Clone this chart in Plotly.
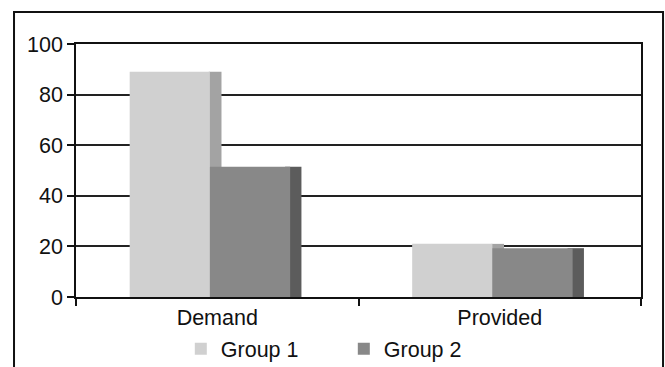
import plotly.graph_objects as go

categories = ["Demand", "Provided"]
group1 = [89, 21]
group2 = [51.5, 19.3]
series_names = ["Group 1", "Group 2"]

FONT = "Liberation Sans, Arial, sans-serif"
C1, C1S = "#d0d0d0", "#a3a3a3"
C2, C2S = "#888888", "#5c5c5c"

fig = go.Figure()
# side faces drawn first (3D depth strips)
fig.add_trace(go.Bar(x=categories, y=group1, marker=dict(color=C1S, line=dict(width=0)),
                     offset=-0.03, width=0.045, showlegend=False, hoverinfo="skip"))
fig.add_trace(go.Bar(x=categories, y=group1, name=series_names[0],
                     marker=dict(color=C1, line=dict(width=0)), offset=-0.31, width=0.284))
fig.add_trace(go.Bar(x=categories, y=group2, marker=dict(color=C2S, line=dict(width=0)),
                     offset=0.24, width=0.058, showlegend=False, hoverinfo="skip"))
fig.add_trace(go.Bar(x=categories, y=group2, name=series_names[1],
                     marker=dict(color=C2, line=dict(width=0)), offset=-0.026, width=0.284))

fig.update_layout(
    width=665, height=367,
    margin=dict(l=76, r=24, t=44, b=70, autoexpand=False),
    paper_bgcolor="white", plot_bgcolor="white",
    barmode="overlay",
    font=dict(family=FONT, size=21.5, color="#111"),
    showlegend=True,
    legend=dict(orientation="h", x=0.474, xanchor="center", y=-0.205, yanchor="middle",
                font=dict(size=21.5), entrywidth=118, itemwidth=30),
    xaxis=dict(range=[-0.5, 1.5], tickson="boundaries", ticks="outside", ticklen=7,
               tickwidth=1.5, tickcolor="#111", showline=True, linecolor="#111",
               linewidth=1.5, mirror=True, showgrid=False),
    yaxis=dict(range=[0, 100], dtick=20, ticks="outside", ticklen=7, tickwidth=1.5,
               tickcolor="#111", showline=True, linecolor="#111", linewidth=1.5,
               mirror=True, showgrid=True, gridcolor="#222", gridwidth=1.5,
               zeroline=False),
    shapes=[dict(type="rect", xref="paper", yref="paper", x0=-0.1097, x1=1.039,
                 y0=-0.45, y1=1.1265, line=dict(color="#111", width=2), layer="below")],
)

fig.write_html("out.html")
